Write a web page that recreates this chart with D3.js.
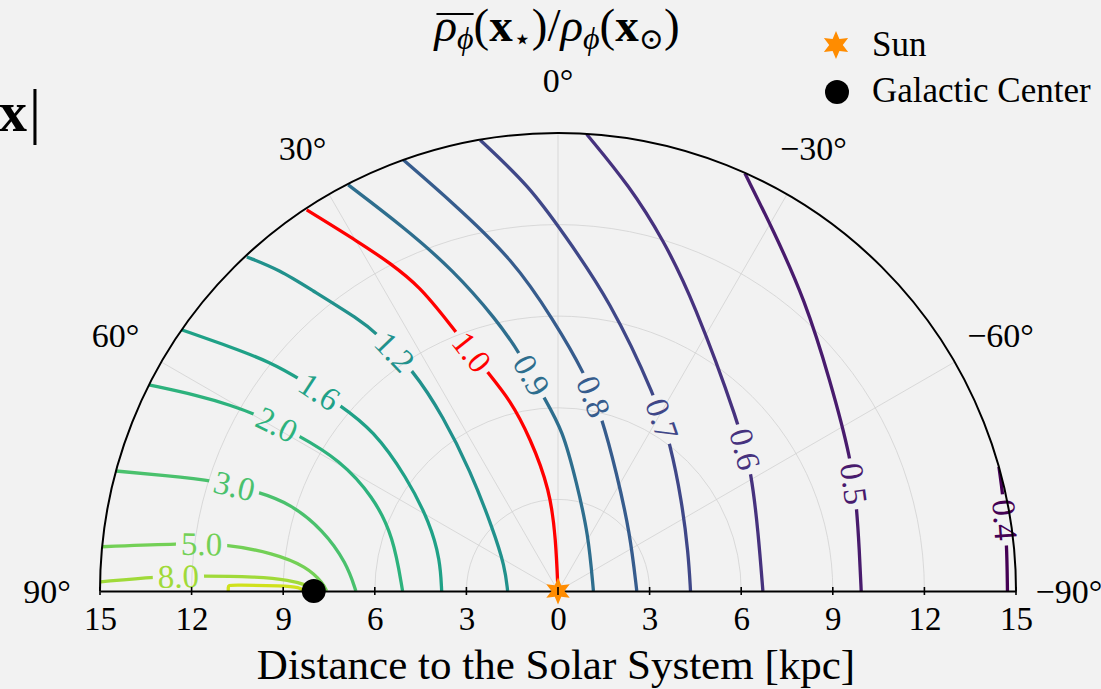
<!DOCTYPE html>
<html>
<head>
<meta charset="utf-8">
<script src="https://cdn.jsdelivr.net/npm/d3@7"></script>
<style>
  html, body { margin: 0; padding: 0; background: #f2f2f2; }
  svg { display: block; font-family: "Liberation Serif", "DejaVu Serif", serif; }
</style>
</head>
<body>
<svg id="chart" width="1101" height="689"></svg>
<script>
// Contour levels of the density ratio (the last one is drawn without a label)
const levels = [0.4, 0.5, 0.6, 0.7, 0.8, 0.9, 1.0, 1.2, 1.6, 2.0, 3.0, 5.0, 8.0, 12.0];

// Contour paths, [horizontal offset, height] in kpc from the Solar System
const contour_0_4 = [[14.44, 4.07], [14.58, 3.09], [14.70, 1.56], [14.72, 0]];
const contour_0_5 = [[6.12, 13.68], [7.05, 11.82], [8.09, 9.53], [8.91, 6.91], [9.62, 4.24], [9.78, 2.76], [9.87, 1.34], [9.93, 0]];
const contour_0_6 = [[0.94, 14.96], [2.36, 13.24], [3.45, 11.50], [4.43, 9.53], [5.96, 5.38], [6.34, 3.85], [6.56, 1.89], [6.71, 0]];
const contour_0_7 = [[-2.55, 14.77], [-0.92, 13.24], [0.17, 11.72], [1.70, 9.53], [3.23, 6.26], [3.67, 4.84], [4.05, 2.98], [4.27, 1.23], [4.34, 0]];
const contour_0_8 = [[-5.07, 14.12], [-3.43, 12.70], [-1.46, 10.84], [-0.15, 8.88], [0.88, 7.13], [1.43, 5.71], [1.92, 3.86], [2.36, 1.89], [2.58, 0]];
const contour_0_9 = [[-6.87, 13.30], [-5.07, 11.93], [-3.43, 10.51], [-2.01, 8.88], [-1.25, 7.79], [-0.48, 6.36], [0.16, 5.27], [0.61, 3.53], [0.99, 1.89], [1.16, 0]];
const contour_1_0 = [[-8.23, 12.48], [-6.48, 11.40], [-5.50, 10.74], [-4.52, 9.96], [-3.65, 8.88], [-2.29, 7.14], [-1.57, 6.26], [-0.92, 5.04], [-0.26, 3.31], [-0.07, 1.67], [0, 0]];
const contour_1_2 = [[-10.19, 10.94], [-9.11, 10.51], [-8.12, 9.89], [-6.49, 8.88], [-5.94, 8.44], [-4.74, 7.24], [-3.76, 5.71], [-2.88, 3.96], [-2.12, 2.00], [-1.74, 0.80], [-1.65, 0]];
const contour_1_6 = [[-12.31, 8.55], [-10.74, 8.00], [-9.43, 7.50], [-8.39, 6.91], [-7.14, 6.09], [-6.05, 5.27], [-4.96, 3.74], [-4.19, 2.22], [-3.86, 1.02], [-3.81, 0]];
const contour_2_0 = [[-13.40, 6.75], [-11.73, 6.39], [-10.74, 6.09], [-9.82, 5.76], [-8.51, 5.11], [-7.14, 4.29], [-6.05, 3.09], [-5.39, 1.78], [-5.09, 0]];
const contour_3_0 = [[-14.48, 3.93], [-12.87, 3.78], [-11.23, 3.61], [-9.82, 3.25], [-8.78, 2.87], [-7.69, 2.00], [-6.92, 0.91], [-6.62, 0]];
const contour_5_0 = [[-14.93, 1.45], [-12.32, 1.56], [-10.91, 1.54], [-9.32, 1.24], [-8.23, 0.80], [-7.69, 0.25], [-7.58, 0]];
const contour_8_0 = [[-14.98, 0.30], [-13.14, 0.47], [-11.67, 0.50], [-9.87, 0.47], [-8.78, 0.36], [-8.23, 0.20], [-7.86, 0]];
const contour_12_0 = [[-10.80, 0], [-10.80, 0.12], [-10.79, 0.19], [-10.60, 0.20], [-9.00, 0.17], [-8.45, 0.12], [-8.34, 0]];

const contourPaths = [contour_0_4, contour_0_5, contour_0_6, contour_0_7, contour_0_8, contour_0_9,
  contour_1_0, contour_1_2, contour_1_6, contour_2_0, contour_3_0, contour_5_0, contour_8_0, contour_12_0];

// Where each level's inline label sits (kpc); null = no label
const labelSpots = [[14.64, 2.33], [9.78, 3.53], [6.23, 4.67], [3.56, 5.67], [1.27, 6.42], [-0.75, 7.14],
  [-2.82, 7.83], [-5.34, 7.84], [-7.79, 6.58], [-9.16, 5.54], [-10.58, 3.53], [-11.67, 1.61], [-12.44, 0.58], null];

// Axes
const distanceTicks = [-15, -12, -9, -6, -3, 0, 3, 6, 9, 12, 15];
const ringValues = [3, 6, 9, 12];
const angleTicks = [90, 60, 30, 0, -30, -60, -90];
const spokeAngles = [60, 30, 0, -30, -60];

// Reference points (kpc)
const sunPos = [0, 0];
const galacticCenterPos = [-8, 0];

const rMax = 15;
const cx = 558, cy = 591, R = 458;
const serif = '"Liberation Serif", "DejaVu Serif", serif';

const svg = d3.select("#chart");
svg.append("rect").attr("width", 1101).attr("height", 689).attr("fill", "#f2f2f2");
const defs = svg.append("defs");

const x = d3.scaleLinear().domain([-rMax, rMax]).range([cx - R, cx + R]);
const y = d3.scaleLinear().domain([0, rMax]).range([cy, cy - R]);
const rad = d3.scaleLinear().domain([0, rMax]).range([0, R]);

// angle in degrees from the vertical, positive towards the Galactic Center side
function polar(rPx, deg) {
  const a = deg * Math.PI / 180;
  return [cx - rPx * Math.sin(a), cy - rPx * Math.cos(a)];
}
function halfCircle(rPx) {
  const p = d3.path();
  p.moveTo(cx - rPx, cy);
  p.arc(cx, cy, rPx, Math.PI, 2 * Math.PI);
  return p.toString();
}

// half-disk clip
defs.append("clipPath").attr("id", "halfdisk").append("path").attr("d", halfCircle(R) + "Z");

// grid
const grid = svg.append("g").attr("stroke", "#d2d2d2").attr("stroke-width", 0.8).attr("fill", "none");
ringValues.forEach(v => grid.append("path").attr("d", halfCircle(rad(v))));
spokeAngles.forEach(a => {
  const p = polar(R, a);
  grid.append("line").attr("x1", cx).attr("y1", cy).attr("x2", p[0]).attr("y2", p[1]);
});

// contours
const color = d3.scaleSequential(d3.interpolateViridis).domain([0, levels.length]);
const lineGen = d3.line().x(d => x(d[0])).y(d => y(d[1])).curve(d3.curveBasis);
const cg = svg.append("g").attr("clip-path", "url(#halfdisk)");
const lg = svg.append("g");

contourPaths.forEach((pts, i) => {
  const col = levels[i] === 1.0 ? "#ff0000" : color(i);
  const path = cg.append("path").attr("d", lineGen(pts)).attr("fill", "none")
    .attr("stroke", col).attr("stroke-width", 3.3).attr("stroke-linejoin", "round");
  const spot = labelSpots[i];
  if (!spot) return;
  const node = path.node();
  const L = node.getTotalLength();
  const tx = x(spot[0]), ty = y(spot[1]);
  let best = 0, bd = Infinity;
  for (let s = 0; s <= L; s += 0.5) {
    const p = node.getPointAtLength(s);
    const d = (p.x - tx) ** 2 + (p.y - ty) ** 2;
    if (d < bd) { bd = d; best = s; }
  }
  const p = node.getPointAtLength(best);
  const p0 = node.getPointAtLength(Math.max(0, best - 5));
  const p1 = node.getPointAtLength(Math.min(L, best + 5));
  let ang = Math.atan2(p1.y - p0.y, p1.x - p0.x) * 180 / Math.PI;
  if (ang > 90) ang -= 180;
  if (ang < -90) ang += 180;
  const tr = `translate(${p.x},${p.y}) rotate(${ang})`;
  const t = lg.append("text").attr("transform", tr).attr("text-anchor", "middle")
    .attr("dy", "0.34em").attr("font-size", 33).attr("font-family", serif)
    .attr("fill", col).text(levels[i].toFixed(1));
  const w = t.node().getComputedTextLength();
  const m = defs.append("mask").attr("id", "gap" + i).attr("maskUnits", "userSpaceOnUse")
    .attr("x", 0).attr("y", 0).attr("width", 1101).attr("height", 689);
  m.append("rect").attr("width", 1101).attr("height", 689).attr("fill", "#fff");
  m.append("rect").attr("transform", tr).attr("x", -w / 2 - 5).attr("y", -14)
    .attr("width", w + 10).attr("height", 28).attr("fill", "#000");
  path.attr("mask", `url(#gap${i})`);
});

// outer boundary
svg.append("path").attr("d", halfCircle(R)).attr("fill", "none").attr("stroke", "#000").attr("stroke-width", 2);

// distance axis
const axis = d3.axisBottom(x).tickValues(distanceTicks).tickFormat(d => Math.abs(d)).tickSize(0).tickSizeOuter(0);
const ag = svg.append("g").attr("transform", `translate(0,${cy})`).call(axis)
  .attr("font-family", serif).attr("font-size", 33);
ag.select(".domain").attr("stroke", "#000").attr("stroke-width", 2);
ag.selectAll(".tick text").attr("y", 39).attr("dy", 0).attr("fill", "#000");

// angle labels
svg.append("g").selectAll("text").data(angleTicks).join("text")
  .attr("x", d => polar(R + 53, d)[0]).attr("y", d => polar(R + 53, d)[1])
  .attr("dy", "0.34em").attr("text-anchor", "middle").attr("font-size", 34).attr("fill", "#000")
  .text(d => (d < 0 ? "\u2212" : "") + Math.abs(d) + "\u00b0");

// markers
function starPath(ro, ri, n) {
  const pts = [];
  for (let k = 0; k < 2 * n; k++) {
    const a = k * Math.PI / n, r = k % 2 ? ri : ro;
    pts.push([r * Math.sin(a), -r * Math.cos(a)]);
  }
  return "M" + pts.map(p => p.join(",")).join("L") + "Z";
}
const orange = "#ff8c00";
svg.append("circle").attr("cx", x(galacticCenterPos[0])).attr("cy", y(galacticCenterPos[1])).attr("r", 12).attr("fill", "#000");
svg.append("path").attr("d", starPath(13.5, 6.5, 6))
  .attr("transform", `translate(${x(sunPos[0])},${y(sunPos[1])})`).attr("fill", orange);

// tick marks across the axis line
svg.append("g").attr("stroke", "#000").attr("stroke-width", 1.6).selectAll("line").data(distanceTicks).join("line")
  .attr("x1", d => x(d)).attr("x2", d => x(d)).attr("y1", cy - 4).attr("y2", cy + 4);

// axis title
svg.append("text").attr("x", 556).attr("y", 679).attr("text-anchor", "middle").attr("font-size", 43)
  .attr("fill", "#000").text("Distance to the Solar System [kpc]");

// chart title
const title = svg.append("text").attr("x", 557).attr("y", 41).attr("text-anchor", "middle")
  .attr("font-size", 47).attr("fill", "#000");
const parts = [
  ["\u03c1", { "font-style": "italic" }],
  ["\u03d5", { "font-style": "italic", "font-size": 32, dy: 8 }],
  ["(", { dy: -8 }],
  ["x", { "font-weight": "bold" }],
  ["\u22c6", { "font-size": 30, dy: 8 }],
  [")", { dy: -8 }],
  ["/", {}],
  ["\u03c1", { "font-style": "italic" }],
  ["\u03d5", { "font-style": "italic", "font-size": 32, dy: 8 }],
  ["(", { dy: -8 }],
  ["x", { "font-weight": "bold" }],
  ["\u2299", { "font-size": 30, dy: 8 }],
  [")", { dy: -8 }]
];
parts.forEach(([s, a]) => {
  const ts = title.append("tspan").text(s);
  Object.entries(a).forEach(([k, v]) => ts.attr(k, v));
});
const e0 = title.node().getExtentOfChar(0), e1 = title.node().getExtentOfChar(1);
svg.append("line").attr("x1", e0.x + 2).attr("x2", e1.x + e1.width).attr("y1", 14).attr("y2", 14)
  .attr("stroke", "#000").attr("stroke-width", 2);

// partially visible label at the left edge
svg.append("text").attr("x", 27).attr("y", 131).attr("text-anchor", "end").attr("font-size", 56)
  .attr("font-weight", "bold").attr("fill", "#000").text("x");
svg.append("text").attr("x", 35).attr("y", 132).attr("text-anchor", "middle").attr("font-size", 62)
  .attr("fill", "#000").text("|");

// legend
const leg = svg.append("g");
leg.append("path").attr("d", starPath(14, 6.8, 6)).attr("transform", "translate(836,45)").attr("fill", orange);
leg.append("text").attr("x", 872).attr("y", 56).attr("font-size", 35).attr("fill", "#000").text("Sun");
leg.append("circle").attr("cx", 837).attr("cy", 92).attr("r", 12).attr("fill", "#000");
leg.append("text").attr("x", 872).attr("y", 102).attr("font-size", 35).attr("fill", "#000").text("Galactic Center");
</script>
</body>
</html>
